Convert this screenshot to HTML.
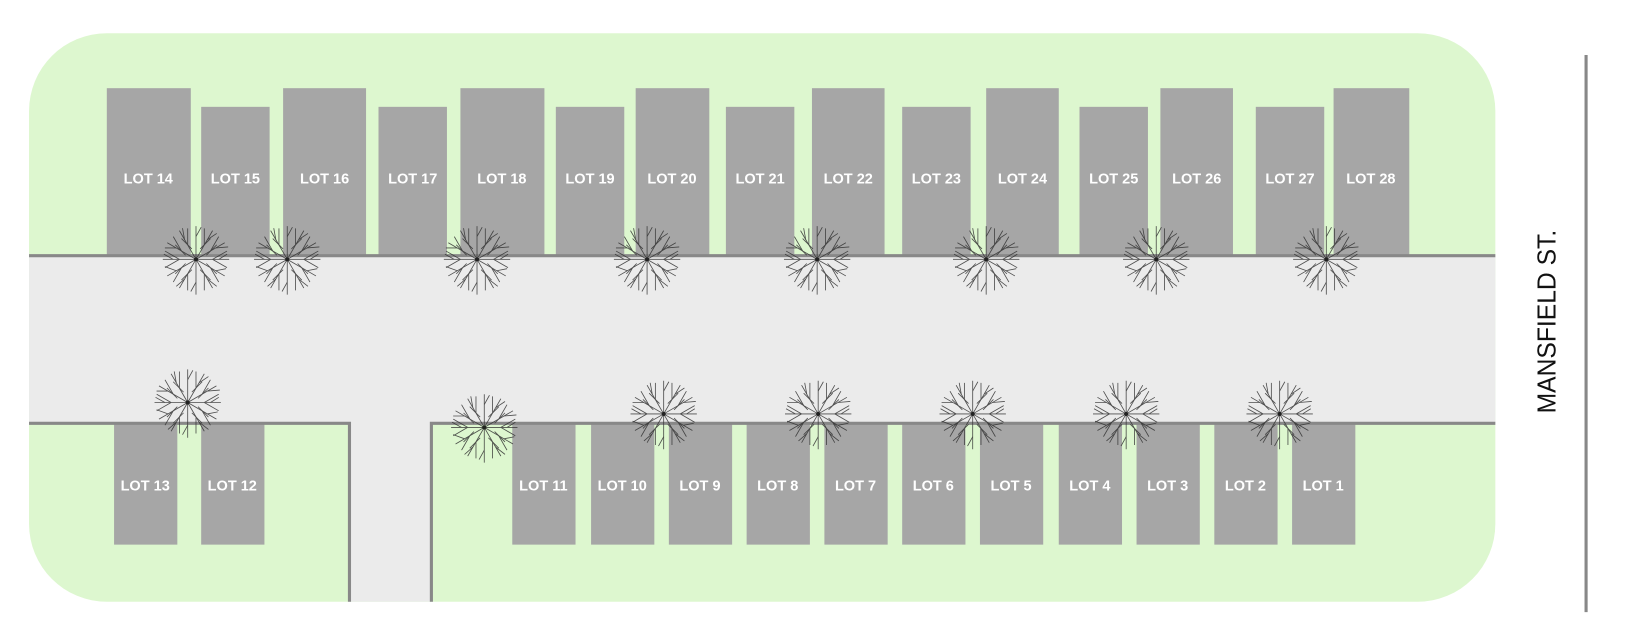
<!DOCTYPE html>
<html><head><meta charset="utf-8"><style>
html,body{margin:0;padding:0;background:#fff;}
svg{display:block;}
.l{fill:#a6a6a6;}
.t{fill:#fff;font-family:"Liberation Sans",sans-serif;font-weight:bold;font-size:14px;text-anchor:middle;}
</style></head><body>
<svg width="1626" height="638" viewBox="0 0 1568 615" xmlns="http://www.w3.org/2000/svg" preserveAspectRatio="none">
<defs>
<g id="tr" stroke="#333" stroke-width="0.8" fill="none" opacity="0.85">
<path d="M0 0L32 0M0 0L27.7 16M0 0L16 27.7M0 0L0 34M0 0L-16 27.7M0 0L-27.7 16M0 0L-32 0M0 0L-27.7 -16M0 0L-16 -27.7M0 0L0 -32M0 0L16 -27.7M0 0L27.7 -16"/>
<path d="M16 0L29.9 8M13.9 8L21.9 21.9M8 13.9L8 29.9M-8 13.9L-8 29.9M-13.9 8L-21.9 21.9M-16 0L-29.9 8M-16 0L-29.9 -8M-13.9 -8L-21.9 -21.9M-8 -13.9L-8 -29.9M8 -13.9L8 -29.9M13.9 -8L21.9 -21.9M16 0L29.9 -8"/>
<path d="M22 0L30 -5M19 11L29 9M11 19L20 26M0 22L-5 31M-11 19L-19 26M-19 11L-30 7M-22 0L-31 -5M-19 -11L-30 -11M-11 -19L-13 -30M0 -22L5 -31M11 -19L20 -25M19 -11L31 -12"/>
<path d="M10 4L20 14M4 10L14 20M-4 10L-14 20M-10 4L-20 14M-10 -4L-20 -14M-4 -10L-14 -20M4 -10L14 -20M10 -4L20 -14"/>
<circle r="2" fill="#000" stroke="none"/>
</g>
</defs>
<rect x="28" y="32" width="1414" height="548" rx="75" fill="#ddf7cf"/>
<rect x="28" y="247" width="1414" height="161" fill="#ebebeb"/>
<rect x="337" y="400" width="79" height="180" fill="#ebebeb"/>
<rect class="l" x="103" y="85" width="81" height="162"/>
<rect class="l" x="194" y="103" width="66" height="144"/>
<rect class="l" x="273" y="85" width="80" height="162"/>
<rect class="l" x="365" y="103" width="66" height="144"/>
<rect class="l" x="444" y="85" width="81" height="162"/>
<rect class="l" x="536" y="103" width="66" height="144"/>
<rect class="l" x="613" y="85" width="71" height="162"/>
<rect class="l" x="700" y="103" width="66" height="144"/>
<rect class="l" x="783" y="85" width="70" height="162"/>
<rect class="l" x="870" y="103" width="66" height="144"/>
<rect class="l" x="951" y="85" width="70" height="162"/>
<rect class="l" x="1041" y="103" width="66" height="144"/>
<rect class="l" x="1119" y="85" width="70" height="162"/>
<rect class="l" x="1211" y="103" width="66" height="144"/>
<rect class="l" x="1286" y="85" width="73" height="162"/>
<rect class="l" x="110" y="408" width="61" height="117"/>
<rect class="l" x="194" y="408" width="61" height="117"/>
<rect class="l" x="494" y="408" width="61" height="117"/>
<rect class="l" x="570" y="408" width="61" height="117"/>
<rect class="l" x="645" y="408" width="61" height="117"/>
<rect class="l" x="720" y="408" width="61" height="117"/>
<rect class="l" x="795" y="408" width="61" height="117"/>
<rect class="l" x="870" y="408" width="61" height="117"/>
<rect class="l" x="945" y="408" width="61" height="117"/>
<rect class="l" x="1021" y="408" width="61" height="117"/>
<rect class="l" x="1096" y="408" width="61" height="117"/>
<rect class="l" x="1171" y="408" width="61" height="117"/>
<rect class="l" x="1246" y="408" width="61" height="117"/>
<g stroke="#888" stroke-width="3" fill="none">
<path d="M28 246.5H1442"/>
<path d="M28 408H337V580"/>
<path d="M1442 408H416V580"/>
</g>
<path d="M1529.5 53V590" stroke="#888" stroke-width="3"/>
<g class="t">
<text x="143" y="177">LOT 14</text><text x="227" y="177">LOT 15</text><text x="313" y="177">LOT 16</text>
<text x="398" y="177">LOT 17</text><text x="484" y="177">LOT 18</text><text x="569" y="177">LOT 19</text>
<text x="648" y="177">LOT 20</text><text x="733" y="177">LOT 21</text><text x="818" y="177">LOT 22</text>
<text x="903" y="177">LOT 23</text><text x="986" y="177">LOT 24</text><text x="1074" y="177">LOT 25</text>
<text x="1154" y="177">LOT 26</text><text x="1244" y="177">LOT 27</text><text x="1322" y="177">LOT 28</text>
<text x="140" y="473">LOT 13</text><text x="224" y="473">LOT 12</text><text x="524" y="473">LOT 11</text>
<text x="600" y="473">LOT 10</text><text x="675" y="473">LOT 9</text><text x="750" y="473">LOT 8</text>
<text x="825" y="473">LOT 7</text><text x="900" y="473">LOT 6</text><text x="975" y="473">LOT 5</text>
<text x="1051" y="473">LOT 4</text><text x="1126" y="473">LOT 3</text><text x="1201" y="473">LOT 2</text>
<text x="1276" y="473">LOT 1</text>
</g>
<text transform="translate(1500 310) rotate(-90)" text-anchor="middle" font-family="Liberation Sans, sans-serif" font-size="25" fill="#111" textLength="177" lengthAdjust="spacingAndGlyphs">MANSFIELD ST.</text>
<use href="#tr" x="189" y="250"/><use href="#tr" x="277" y="250"/><use href="#tr" x="460" y="250"/>
<use href="#tr" x="624" y="250"/><use href="#tr" x="788" y="250"/><use href="#tr" x="951" y="250"/>
<use href="#tr" x="1115" y="250"/><use href="#tr" x="1279" y="250"/>
<use href="#tr" x="181" y="388"/><use href="#tr" x="467" y="412"/><use href="#tr" x="640" y="399"/>
<use href="#tr" x="789" y="399"/><use href="#tr" x="938" y="399"/><use href="#tr" x="1086" y="399"/>
<use href="#tr" x="1234" y="399"/>
</svg>
</body></html>
